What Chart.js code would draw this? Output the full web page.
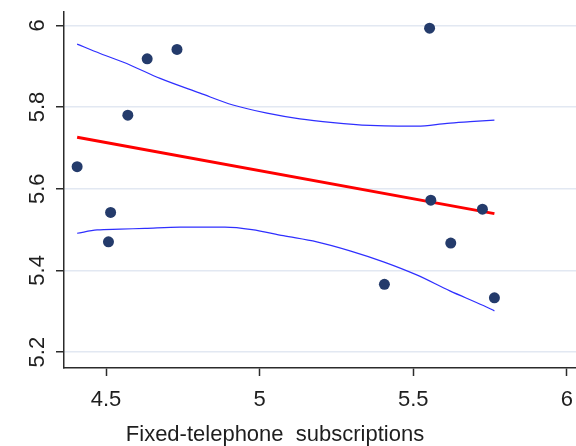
<!DOCTYPE html>
<html>
<head>
<meta charset="utf-8">
<script src="https://cdn.jsdelivr.net/npm/chart.js@4.4.1/dist/chart.umd.min.js"></script>
<style>
  html, body { margin: 0; padding: 0; background: #ffffff; overflow: hidden; }
  #wrap { width: 576px; height: 446px; position: relative; }
</style>
</head>
<body>
<div id="wrap"><canvas id="chart"></canvas></div>
<script>
// Observations
const obsX = [4.406, 4.508, 4.515, 4.571, 4.634, 4.731, 5.406, 5.553, 5.557, 5.622, 5.725, 5.764];
const obsY = [5.654, 5.470, 5.542, 5.780, 5.918, 5.941, 5.366, 5.993, 5.572, 5.467, 5.550, 5.333];

// Fitted line
const fitX = [4.406, 5.764];
const fitY = [5.726, 5.539];

// Confidence band, upper and lower edges
const ciUpperX = [4.406, 4.481, 4.578, 4.676, 4.806, 4.913, 5.024, 5.131, 5.239, 5.359, 5.450, 5.512, 5.610, 5.685, 5.764];
const ciUpperY = [5.954, 5.931, 5.903, 5.870, 5.834, 5.805, 5.785, 5.771, 5.762, 5.755, 5.753, 5.753, 5.760, 5.764, 5.768];
const ciLowerX = [4.406, 4.471, 4.546, 4.627, 4.741, 4.887, 4.975, 5.077, 5.186, 5.294, 5.403, 5.511, 5.619, 5.728, 5.764];
const ciLowerY = [5.491, 5.499, 5.501, 5.503, 5.506, 5.506, 5.500, 5.485, 5.470, 5.448, 5.421, 5.389, 5.350, 5.314, 5.301];

// Axis ticks
const xTicks = [4.5, 5, 5.5, 6];
const xTickLabels = ['4.5', '5', '5.5', '6'];
const yTicks = [5.2, 5.4, 5.6, 5.8, 6];
const yTickLabels = ['5.2', '5.4', '5.6', '5.8', '6'];

const xTitle = 'Fixed-telephone  subscriptions';

const toPoints = (xs, ys) => xs.map((x, i) => ({ x: x, y: ys[i] }));

const FONT = "'Liberation Sans', Arial, sans-serif";
const TEXT = '#1e1e1e';
const AXIS = '#2b2b2b';

// Tick labels for both axes (vertical ones written bottom-to-top) and the x-axis title
const axisText = {
  id: 'axisText',
  afterDraw(chart) {
    const ctx = chart.ctx;
    const xs = chart.scales.x;
    const ys = chart.scales.y;
    ctx.save();
    ctx.fillStyle = TEXT;
    ctx.font = '22px ' + FONT;
    ctx.textAlign = 'center';
    ctx.textBaseline = 'alphabetic';
    yTicks.forEach((v, i) => {
      const py = ys.getPixelForValue(v);
      ctx.save();
      ctx.translate(44, py);
      ctx.rotate(-Math.PI / 2);
      ctx.fillText(yTickLabels[i], 0, 0);
      ctx.restore();
    });
    const labelBase = xs.top + 37.5;
    xTicks.forEach((v, i) => {
      ctx.fillText(xTickLabels[i], xs.getPixelForValue(v), labelBase);
    });
    ctx.fillText(xTitle, 275, 441);
    ctx.restore();
  }
};

new Chart(document.getElementById('chart'), {
  type: 'scatter',
  data: {
    datasets: [
      {
        label: 'obs',
        data: toPoints(obsX, obsY),
        backgroundColor: '#243b6b',
        borderColor: '#243b6b',
        pointRadius: 5.5,
        pointHoverRadius: 5.5,
        borderWidth: 0
      },
      {
        label: 'fit',
        data: toPoints(fitX, fitY),
        showLine: true,
        borderColor: '#ff0000',
        borderWidth: 3,
        pointRadius: 0
      },
      {
        label: 'upper',
        data: toPoints(ciUpperX, ciUpperY),
        showLine: true,
        borderColor: '#2f2fff',
        borderWidth: 1.2,
        pointRadius: 0,
        cubicInterpolationMode: 'monotone'
      },
      {
        label: 'lower',
        data: toPoints(ciLowerX, ciLowerY),
        showLine: true,
        borderColor: '#2f2fff',
        borderWidth: 1.2,
        pointRadius: 0,
        cubicInterpolationMode: 'monotone'
      }
    ]
  },
  options: {
    responsive: true,
    maintainAspectRatio: false,
    animation: false,
    events: [],
    layout: { autoPadding: false, padding: { top: 12, right: 0, bottom: 0, left: 0 } },
    plugins: {
      legend: { display: false },
      tooltip: { enabled: false }
    },
    scales: {
      x: {
        type: 'linear',
        min: 4.3633,
        max: 6.0295,
        afterBuildTicks: (s) => { s.ticks = xTicks.map(v => ({ value: v })); },
        afterFit: (s) => { s.height = 78; },
        grid: {
          drawOnChartArea: false,
          drawTicks: true,
          tickLength: 8,
          tickColor: AXIS,
          tickWidth: 1.5
        },
        border: { display: true, color: AXIS, width: 1.5 },
        ticks: { display: false }
      },
      y: {
        type: 'linear',
        min: 5.1611,
        max: 6.0326,
        afterBuildTicks: (s) => { s.ticks = yTicks.map(v => ({ value: v })); },
        afterFit: (s) => { s.width = 64; },
        grid: {
          color: '#e2e8f2',
          lineWidth: 1.5,
          drawTicks: true,
          tickLength: 8,
          tickColor: AXIS,
          tickWidth: 1.5
        },
        border: { display: true, color: AXIS, width: 1.5 },
        ticks: { display: false }
      }
    }
  },
  plugins: [axisText]
});
</script>
</body>
</html>
